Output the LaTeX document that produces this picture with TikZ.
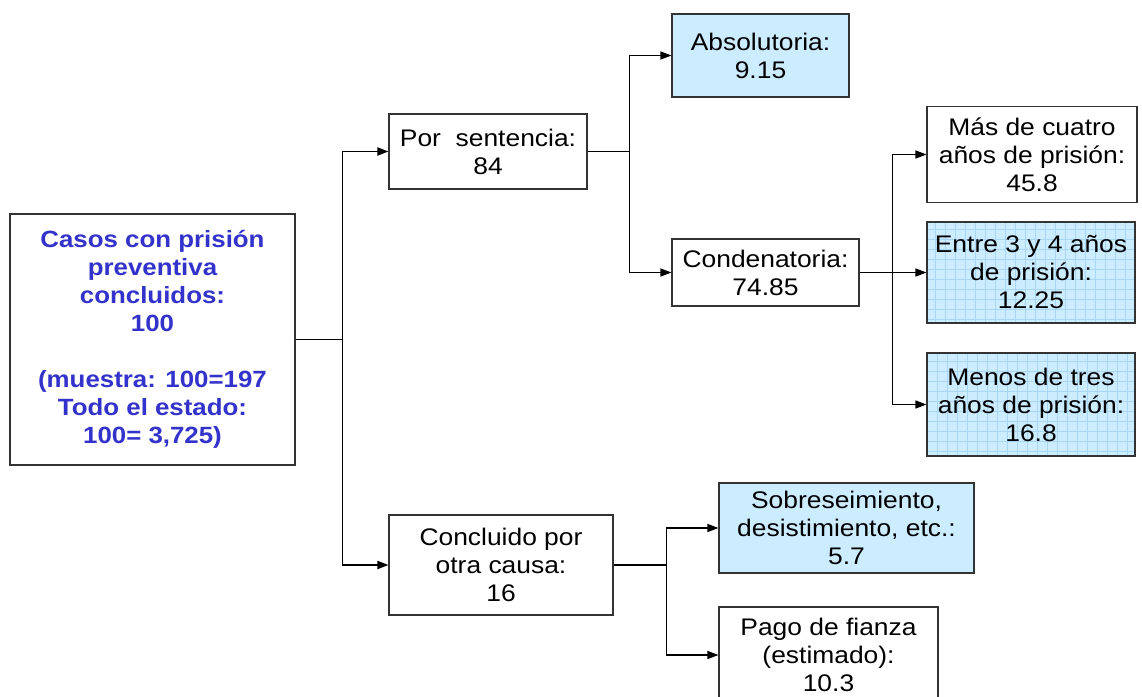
\documentclass[tikz,border=0pt]{standalone}
\usepackage{fontspec}
\setmainfont{Liberation Sans}[FakeStretch=1.1]
\usetikzlibrary{arrows.meta}
\definecolor{boxblue}{HTML}{CCECFF}
\definecolor{gridblue}{HTML}{A9D6F5}
\definecolor{txtblue}{HTML}{3333CC}
\definecolor{edge}{HTML}{333333}
\tikzset{
  box/.style={draw=edge, line width=1.1pt, fill=white, align=center, inner sep=2pt,
    font=\fontsize{24}{28}\selectfont},
  bluebox/.style={box, fill=boxblue},
  gridbox/.style={box, fill=boxblue, path picture={
      \draw[gridblue, line width=0.7pt, xstep=10pt, ystep=10pt]
        (path picture bounding box.south west) grid (path picture bounding box.north east);}},
  arr/.style={line width=1.3pt, black, -{Triangle[length=11pt,width=8pt]}},
  mainarr/.style={arr, line width=1.8pt}
}
\begin{document}
\begin{tikzpicture}[x=1pt,y=-1pt]
\useasboundingbox (0,0) rectangle (1142,696);
\clip (0,0) rectangle (1142,696);
\node[box, minimum width=285, minimum height=251, text=txtblue, font=\bfseries\fontsize{23.5}{28}\selectfont]
  (main) at (152.5,339.5) {Casos con prisión\\preventiva\\concluidos:\\100\\[28pt](muestra: 100=197\\Todo el estado:\\100= 3,725)};
\node[box, minimum width=198, minimum height=75] (por) at (488,151.5) {Por\ \ sentencia:\\84};
\node[bluebox, minimum width=177, minimum height=83] (abs) at (760.5,55.5) {Absolutoria:\\9.15};
\node[box, minimum width=187, minimum height=67] (cond) at (765.5,272.5) {Condenatoria:\\74.85};
\node[box, minimum width=210, minimum height=96] (mas) at (1032,154.5) {Más de cuatro\\años de prisión:\\45.8};
\node[gridbox, minimum width=208, minimum height=101] (entre) at (1031,272.5) {Entre 3 y 4 años\\de prisión:\\12.25};
\node[gridbox, minimum width=208, minimum height=103] (menos) at (1031,404.5) {Menos de tres\\años de prisión:\\16.8};
\node[box, minimum width=224, minimum height=100] (conc) at (501,565) {Concluido por\\otra causa:\\16};
\node[bluebox, minimum width=255, minimum height=90] (sobre) at (846.5,528) {Sobreseimiento,\\desistimiento, etc.:\\5.7};
\node[box, minimum width=219, minimum height=96] (pago) at (828.5,655) {Pago de fianza\\(estimado):\\10.3};
% connectors
\draw[mainarr] (main.east) -- ++(47,0) |- (por.west);
\draw[mainarr] (main.east) -- ++(47,0) |- (conc.west);
\draw[arr] (por.east) -- ++(42,0) |- (abs.west);
\draw[arr] (por.east) -- ++(42,0) |- (cond.west);
\draw[arr] (cond.east) -- ++(33,0) |- (mas.west);
\draw[arr] (cond.east) -- ++(33,0) |- (entre.west);
\draw[arr] (cond.east) -- ++(33,0) |- (menos.west);
\draw[arr] (conc.east) -- ++(53,0) |- (sobre.west);
\draw[arr] (conc.east) -- ++(53,0) |- (pago.west);
\end{tikzpicture}
\end{document}
